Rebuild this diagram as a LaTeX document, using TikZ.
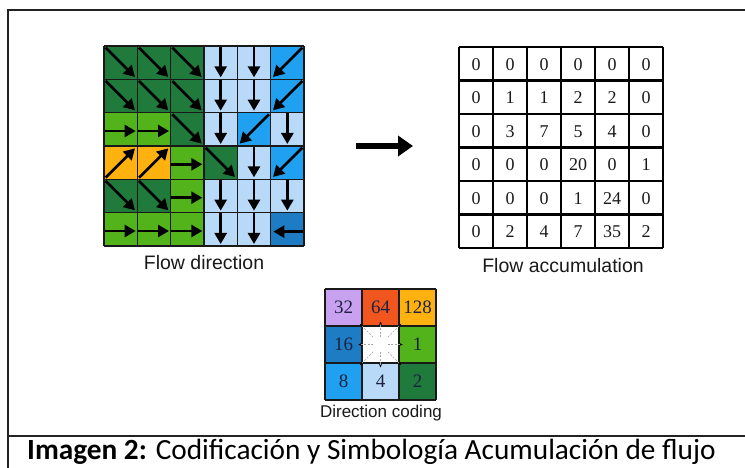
\documentclass[tikz,border=0pt]{standalone}
\usepackage{fontspec}
\setmainfont{Liberation Sans}
\newfontfamily\numfont{Liberation Serif}
\newfontfamily\capfont{Carlito}
\usetikzlibrary{arrows.meta}
\definecolor{dgreen}{HTML}{1F7A3C}
\definecolor{lgreen}{HTML}{52B41A}
\definecolor{lblue}{HTML}{B8DAF8}
\definecolor{sblue}{HTML}{20A0F0}
\definecolor{mblue}{HTML}{1E7CC4}
\definecolor{orng}{HTML}{FFB10F}
\definecolor{purp}{HTML}{C8A2F0}
\definecolor{redor}{HTML}{F0561E}
\definecolor{numcol}{HTML}{1C2340}
\definecolor{framecol}{HTML}{222222}
\tikzset{
  flowarr/.style={line width=2.6pt,-{Triangle[length=11pt,width=12pt]},black},
  gridln/.style={line width=1.6pt,draw=black!90},
  accln/.style={line width=2.6pt,draw=black},
  codeln/.style={line width=1.8pt,draw=black!90},
  smallarr/.style={line width=0.6pt,draw=black!35,dash pattern=on 2pt off 1.5pt,-{Stealth[length=3.5pt,width=3pt,color=black]}},
  label/.style={font=\fontsize{19.5}{22}\selectfont,text=black!90,inner sep=0pt},
  accnum/.style={font=\numfont\fontsize{18}{20}\selectfont,text=black!90,inner sep=0pt},
  codenum/.style={font=\numfont\fontsize{19}{21}\selectfont,text=numcol,inner sep=0pt},
  pics/dse/.style={code={\draw[flowarr] (0.05,0.05) -- (0.93,0.93);}},
  pics/ds/.style={code={\draw[flowarr] (0.5,0.02) -- (0.5,0.94);}},
  pics/de/.style={code={\draw[flowarr] (0.02,0.55) -- (0.95,0.55);}},
  pics/dsw/.style={code={\draw[flowarr] (0.95,0.05) -- (0.07,0.93);}},
  pics/dne/.style={code={\draw[flowarr] (0.05,0.95) -- (0.93,0.07);}},
  pics/dw/.style={code={\draw[flowarr] (0.98,0.57) -- (0.08,0.57);}},
}
\begin{document}
\begin{tikzpicture}[x=1pt,y=-1pt]
\useasboundingbox (0,0) rectangle (745,468);
% frame
\draw[line width=1.4pt,framecol] (745,10) -- (8,10) -- (8,468);
\draw[line width=1.4pt,framecol] (8,436) -- (745,436);
% flow direction grid
\begin{scope}[xshift=104pt,yshift=-46pt,x=33.333pt,y=-33.333pt]
\foreach \c/\r/\col in {
 0/0/dgreen,1/0/dgreen,2/0/dgreen,3/0/lblue,4/0/lblue,5/0/sblue,
 0/1/dgreen,1/1/dgreen,2/1/dgreen,3/1/lblue,4/1/lblue,5/1/sblue,
 0/2/lgreen,1/2/lgreen,2/2/dgreen,3/2/lblue,4/2/sblue,5/2/lblue,
 0/3/orng,1/3/orng,2/3/lgreen,3/3/dgreen,4/3/lblue,5/3/sblue,
 0/4/dgreen,1/4/dgreen,2/4/lgreen,3/4/lblue,4/4/lblue,5/4/lblue,
 0/5/lgreen,1/5/lgreen,2/5/lgreen,3/5/lblue,4/5/lblue,5/5/mblue}{
  \fill[\col] (\c,\r) rectangle ++(1,1);
}
\foreach \i in {0,...,6}{
  \draw[gridln] (\i,0) -- (\i,6);
  \draw[gridln] (0,\i) -- (6,\i);
}
\foreach \c/\r/\d in {
 0/0/dse,1/0/dse,2/0/dse,3/0/ds,4/0/ds,5/0/dsw,
 0/1/dse,1/1/dse,2/1/dse,3/1/ds,4/1/ds,5/1/dsw,
 0/2/de,1/2/de,2/2/dse,3/2/ds,4/2/dsw,5/2/ds,
 0/3/dne,1/3/dne,2/3/de,3/3/dse,4/3/ds,5/3/dsw,
 0/4/dse,1/4/dse,2/4/de,3/4/ds,4/4/ds,5/4/ds,
 0/5/de,1/5/de,2/5/de,3/5/ds,4/5/ds,5/5/dw}{
  \pic at (\c,\r) {\d};
}
\end{scope}
\node[label] (fdlab) at (204,263) {Flow direction};
% arrow
\coordinate (arrS) at (356,146);
\coordinate (arrE) at (413,146);
\draw[line width=5.5pt,-{Triangle[length=15pt,width=20pt]}] (arrS) -- (arrE);
% flow accumulation grid
\begin{scope}[xshift=459pt,yshift=-47pt,x=34pt,y=-33.5pt]
\foreach \i in {0,...,6}{
  \draw[accln] (\i,0) -- (\i,6);
  \draw[accln] (0,\i) -- (6,\i);
}
\foreach \row [count=\r from 0] in {{0,0,0,0,0,0},{0,1,1,2,2,0},{0,3,7,5,4,0},{0,0,0,20,0,1},{0,0,0,1,24,0},{0,2,4,7,35,2}}{
  \foreach \v [count=\c from 0] in \row {
    \node[accnum] (acc-\c-\r) at (\c+0.5,\r+0.52) {\v};
  }
}
\end{scope}
\node[label] (falab) at (563,266) {Flow accumulation};
% direction coding
\begin{scope}[xshift=325pt,yshift=-289pt,x=37pt,y=-37pt]
\foreach \c/\r/\col in {0/0/purp,1/0/redor,2/0/orng,0/1/mblue,1/1/white,2/1/lgreen,0/2/sblue,1/2/lblue,2/2/dgreen}{
  \fill[\col] (\c,\r) rectangle ++(1,1);
}
\foreach \c/\r/\v in {0/0/32,1/0/64,2/0/128,0/1/16,2/1/1,0/2/8,1/2/4,2/2/2}{
  \node[codenum] (dc-\c-\r) at (\c+0.5,\r+0.5) {\v};
}
\foreach \i in {0,...,3}{
  \draw[codeln] (\i,0) -- (\i,3);
  \draw[codeln] (0,\i) -- (3,\i);
}
\coordinate (cc) at (1.5,1.5);
\foreach \dx/\dy/\f [count=\k] in {-1/0/0.6,1/0/0.6,0/-1/0.62,0/1/0.62,-1/-1/0.56,1/-1/0.56,-1/1/0.56,1/1/0.56}{
  \coordinate (s\k) at (1.5+0.2*\dx,1.5+0.2*\dy);
  \coordinate (e\k) at (1.5+\f*\dx,1.5+\f*\dy);
  \draw[smallarr] (s\k) -- (e\k);
}
\end{scope}
\node[label,font=\fontsize{17}{19}\selectfont] (dclab) at (381,413) {Direction coding};
% caption
\node[anchor=base west,inner sep=0pt,font=\capfont\fontsize{29.3}{31}\selectfont] (cap) at (27,459) {\textbf{Imagen 2:} Codificación y Simbología Acumulación de flujo};
\end{tikzpicture}
\end{document}
